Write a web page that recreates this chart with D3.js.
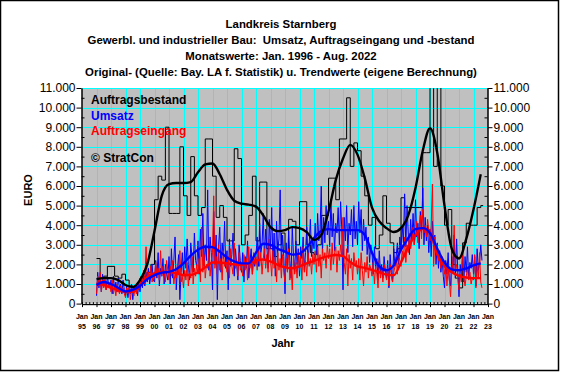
<!DOCTYPE html>
<html>
<head>
<meta charset="utf-8">
<script src="https://cdn.jsdelivr.net/npm/d3@7"></script>
<style>
	body { margin: 0; background: #fff; }
	svg { display: block; font-family: "Liberation Sans", Arial, sans-serif; }
</style>
</head>
<body>
<svg id="chart" width="562" height="376"></svg>
<script>
// Chart texts
const titleLines = [
	'Landkreis Starnberg',
	'Gewerbl. und industrieller Bau:  Umsatz, Auftragseingang und -bestand',
	'Monatswerte: Jan. 1996 - Aug. 2022',
	'Original- (Quelle: Bay. LA f. Statistik) u. Trendwerte (eigene Berechnung)',
];
const legendLabels = [ 'Auftragsbestand', 'Umsatz', 'Auftragseingang' ];
const legendColors = [ '#000000', '#0000ff', '#ff0000' ];
const copyrightLabel = '© StratCon';
const yTitle = 'EURO';
const xTitle = 'Jahr';

// Axis ticks
const yTicks = [ 0, 1000, 2000, 3000, 4000, 5000, 6000, 7000, 8000, 9000, 10000, 11000 ];
const xYears = d3.range( 1995, 2024 );

// Auftragsbestand, quarterly values (Q1 1996 .. Q3 2022)
const bestandQuarterly = [
	2300, 1300, 1400, 1900,
	1900, 1400, 1300, 1500,
	1200, 900, 800, 900,
	1300, 1400, 1600, 2000,
	5300, 6500, 6300, 9000,
	4600, 4600, 4600, 8000,
	5500, 4500, 7500, 5500,
	4500, 4900, 8400, 8400,
	6500, 4400, 5000, 4400,
	3200, 3200, 7900, 7400,
	3000, 3500, 4500, 6500,
	3200, 6200, 6200, 2800,
	2800, 2400, 3000, 3600,
	2600, 4300, 4200, 3000,
	5200, 5200, 3000, 2600,
	2500, 3000, 4500, 4500,
	6400, 6400, 5300, 8400,
	8400, 10500, 7000, 8200,
	7800, 6500, 5500, 4000,
	4400, 2800, 3500, 5500,
	4100, 3100, 2600, 2800,
	5400, 4900, 4900, 4900,
	4900, 4900, 7700, 7700,
	11500, 7000, 11500, 6000,
	4000, 4800, 2000, 1300,
	800, 3100, 4100, 4000,
	4000, 4900, 5000,
];

// Umsatz, monthly values (Jan 1996 .. Aug 2022)
const umsatzMonthly = [
	400, 1600, 800, 1300, 600, 1500, 900, 1200, 700, 1400, 1000, 800,
	1200, 500, 1400, 700, 1100, 600, 1300, 800, 1000, 500, 1200, 700,
	400, 900, 300, 800, 500, 1000, 200, 700, 600, 900, 400, 1000,
	600, 1200, 800, 1500, 900, 1600, 1100, 1800, 1000, 1400, 2000, 1200,
	1100, 2200, 1300, 2600, 900, 1800, 1400, 2300, 1000, 2000, 1500, 1200,
	2400, 1000, 2800, 1300, 2200, 3400, 700, 1800, 2500, 200, 1600, 2600,
	1400, 2900, 1800, 3300, 2000, 1200, 3100, 2400, 1600, 3600, 2200, 1900,
	3200, 1500, 3800, 2400, 4600, 1900, 3000, 2200, 5800, 1700, 3400, 2600,
	700, 4700, 2000, 3500, 200, 2900, 3900, 1600, 3100, 2300, 4200, 1800,
	2700, 700, 3300, 1900, 2500, 3600, 1400, 2800, 2000, 1200, 3000, 2200,
	1600, 2600, 1100, 2400, 1800, 3200, 1300, 2100, 2800, 1500, 2300, 1900,
	2500, 3400, 1900, 4100, 2600, 3000, 4600, 2200, 3800, 2900, 1800, 4300,
	2800, 4900, 2100, 3600, 1400, 4200, 2700, 3300, 5800, 1900, 3500, 2400,
	500, 3100, 1800, 3700, 2200, 1300, 3900, 2500, 1600, 3200, 2000, 2800,
	1400, 2900, 2300, 3400, 1700, 2600, 3900, 2100, 3000, 4300, 2400, 3300,
	2800, 4100, 2500, 4600, 3200, 3700, 6000, 2600, 4400, 3100, 5000, 3500,
	4200, 2900, 5300, 3400, 4600, 2700, 4100, 3600, 4900, 3000, 5200, 3800,
	700, 4400, 3200, 5000, 2600, 4100, 3500, 4800, 2900, 5000, 3300, 4200,
	3000, 5200, 3600, 4800, 2700, 4300, 3200, 3900, 2500, 3400, 2100, 3000,
	2600, 1500, 2900, 1800, 2300, 1200, 2700, 1600, 2000, 1300, 2400, 1700,
	1300, 2200, 800, 2500, 1600, 1100, 2800, 1900, 2400, 3100, 2000, 3400,
	2700, 4000, 3100, 5600, 2900, 5000, 3600, 2500, 4300, 3200, 4600, 3000,
	5300, 3400, 4100, 2800, 4700, 3600, 5900, 3000, 4400, 3200, 4000, 2600,
	3800, 2400, 4200, 2900, 3500, 2000, 3100, 1800, 2700, 1600, 2300, 1400,
	800, 2200, 1500, 2600, 1200, 900, 2400, 1600, 3500, 1300, 3300, 1700,
	350, 2000, 1400, 2700, 1100, 2400, 1600, 2900, 1300, 2100, 1800, 2500,
	1500, 2400, 900, 2800, 1700, 2100, 3000, 2200,
];

// Auftragseingang, monthly values (Jan 1996 .. Aug 2022)
const eingangMonthly = [
	500, 1400, 900, 1600, 600, 1200, 800, 1300, 700, 1100, 900, 1000,
	600, 1200, 500, 900, 400, 1000, 700, 500, 900, 600, 800, 500,
	300, 800, 500, 900, 200, 700, 600, 400, 900, 500, 1000, 700,
	900, 1400, 1100, 1700, 1000, 2900, 1200, 1600, 1300, 1900, 1100, 1500,
	1300, 2100, 1500, 1800, 1200, 2700, 1400, 1900, 1600, 1100, 2200, 1700,
	1200, 1900, 1400, 2200, 1000, 1600, 1300, 2000, 1500, 2700, 1100, 1400,
	800, 1700, 1200, 2100, 900, 1600, 1300, 2400, 1000, 1800, 1400, 2000,
	1500, 2300, 1100, 3900, 1600, 2500, 1300, 2000, 1800, 2800, 1400, 2200,
	2600, 5500, 1800, 2400, 1500, 3000, 1700, 2300, 1200, 2700, 1900, 2100,
	1600, 2400, 1300, 2800, 1900, 1500, 3100, 1800, 2200, 1400, 2600, 1700,
	1900, 1400, 2500, 1700, 2300, 1200, 2900, 1800, 2200, 1500, 2600, 2000,
	2400, 1700, 2900, 1900, 2600, 1500, 2300, 2800, 1800, 2500, 1600, 3300,
	2200, 1400, 2700, 1800, 2400, 1100, 2600, 1700, 2300, 1300, 2500, 1600,
	1100, 2300, 1600, 2800, 1200, 1900, 700, 2400, 1500, 2100, 1300, 2600,
	1700, 2400, 1200, 2900, 1600, 2200, 1400, 2600, 1900, 2300, 1500, 2500,
	2000, 2700, 1600, 2900, 1900, 2500, 1300, 2800, 2200, 2600, 1800, 3000,
	2300, 2800, 1700, 3100, 2000, 2600, 2900, 1600, 2700, 2200, 3000, 2400,
	4400, 2100, 1500, 2800, 900, 2500, 1800, 2300, 1200, 2600, 1900, 2200,
	1500, 2300, 1200, 2600, 1700, 900, 2100, 1600, 2400, 1300, 2000, 1800,
	1400, 2100, 1000, 1900, 1500, 800, 2200, 1300, 1800, 1100, 2000, 1600,
	1200, 1800, 900, 2000, 1400, 1100, 1600, 1900, 2400, 1500, 2600, 2200,
	1900, 2700, 2300, 3400, 2100, 3000, 2600, 3600, 2800, 3200, 3900, 3000,
	3500, 4200, 3100, 3800, 4500, 3300, 4800, 3600, 4000, 3400, 4300, 3700,
	3200, 4000, 6100, 1900, 3400, 2600, 3000, 2200, 2500, 1800, 2400, 2000,
	1500, 2100, 900, 1800, 1200, 350, 1600, 2200, 4000, 1700, 2000, 1300,
	700, 1500, 1100, 2600, 1300, 900, 1400, 1800, 1200, 1600, 1000, 1300,
	1200, 2500, 800, 1900, 1300, 2600, 1100, 800,
];

// Trend values, half-yearly (1996.0 .. 2022.5)
const trendYears = d3.range( 1996, 2022.51, 0.5 );
const trendBestand = [
	1250, 1300, 1300, 1200, 950, 850, 1200, 2000, 3700, 5500,
	6100, 6150, 6150, 6200, 6700, 7100, 7150, 6600, 5800, 5250,
	5100, 5050, 4950, 4500, 3900, 3700, 3750, 3900, 3850, 3650,
	3250, 3500, 4700, 6300, 7400, 8100, 7600, 6400, 4900, 4200,
	3850, 3650, 3850, 4500, 5900, 7800, 8950, 7700, 5000, 2800,
	2300, 3300, 4800, 6600,
];
const trendUmsatz = [
	950, 1100, 1000, 800, 620, 700, 900, 1250, 1450, 1580,
	1620, 1750, 2050, 2450, 2750, 2900, 2880, 2650, 2350, 2150,
	2050, 2050, 2600, 3050, 3000, 2800, 2650, 2500, 2550, 2850,
	3350, 3700, 3800, 3750, 3750, 3750, 3750, 3500, 2600, 1900,
	1700, 1950, 2750, 3350, 3800, 3850, 3600, 2800, 2100, 1750,
	1700, 1800, 1950, 2050,
];
const trendEingang = [
	1030, 950, 800, 680, 600, 600, 900, 1350, 1560, 1620,
	1620, 1550, 1460, 1460, 1600, 1850, 2100, 2100, 2050, 2000,
	1970, 2050, 2200, 2250, 2150, 1980, 1850, 1800, 1900, 2050,
	2180, 2320, 2420, 2480, 2420, 2120, 1900, 1820, 1720, 1600,
	1480, 1450, 2100, 2900, 3500, 3820, 3650, 2500, 1900, 1600,
	1420, 1330, 1300, 1300,
];

const svg = d3.select( '#chart' );
const de = d3.formatLocale( { decimal: ',', thousands: '.', grouping: [ 3 ], currency: [ '', ' €' ] } );
const fmt = de.format( ',' );

const plot = { left: 82, right: 488, top: 88, bottom: 303.6 };

const x = d3.scaleLinear().domain( [ 1995, 2023 ] ).range( [ plot.left, plot.right ] );
const y = d3.scaleLinear().domain( [ 0, 11000 ] ).range( [ plot.bottom, plot.top ] );

// Outer frame
svg.append( 'rect' )
	.attr( 'x', 0.5 ).attr( 'y', 0.5 )
	.attr( 'width', 558 ).attr( 'height', 370 )
	.attr( 'fill', '#fff' )
	.attr( 'stroke', '#000' )
	.attr( 'stroke-width', 1.5 );

// Titles
svg.append( 'g' )
	.selectAll( 'text' )
	.data( titleLines )
	.join( 'text' )
	.attr( 'x', 281 )
	.attr( 'y', ( d, i ) => 28 + i * 16 )
	.attr( 'text-anchor', 'middle' )
	.attr( 'font-size', 11.4 )
	.attr( 'font-weight', 'bold' )
	.style( 'white-space', 'pre' )
	.text( ( d ) => d );

// Plot background
svg.append( 'rect' )
	.attr( 'x', plot.left ).attr( 'y', plot.top )
	.attr( 'width', plot.right - plot.left )
	.attr( 'height', plot.bottom - plot.top )
	.attr( 'fill', '#c0c0c0' );

// Grid lines
const grid = svg.append( 'g' ).attr( 'stroke', '#00ffff' ).attr( 'stroke-width', 1 );
grid.selectAll( 'line.h' )
	.data( yTicks.slice( 1 ) )
	.join( 'line' )
	.attr( 'x1', plot.left ).attr( 'x2', plot.right )
	.attr( 'y1', ( d ) => Math.round( y( d ) ) + 0.5 )
	.attr( 'y2', ( d ) => Math.round( y( d ) ) + 0.5 );
grid.selectAll( 'line.v' )
	.data( xYears.slice( 1, -1 ) )
	.join( 'line' )
	.attr( 'y1', plot.top ).attr( 'y2', plot.bottom )
	.attr( 'x1', ( d ) => Math.round( x( d ) ) + 0.5 )
	.attr( 'x2', ( d ) => Math.round( x( d ) ) + 0.5 );

// Clip for series
svg.append( 'clipPath' ).attr( 'id', 'plotClip' )
	.append( 'rect' )
	.attr( 'x', plot.left ).attr( 'y', plot.top )
	.attr( 'width', plot.right - plot.left )
	.attr( 'height', plot.bottom - plot.top );

const series = svg.append( 'g' ).attr( 'clip-path', 'url(#plotClip)' );

const monthYear = ( i ) => 1996 + i / 12;

// Raw Auftragsbestand as steps
const bestandPoints = bestandQuarterly.map( ( v, i ) => [ 1996 + i / 4, v ] );
bestandPoints.push( [ 1996 + 320 / 12, bestandQuarterly[ bestandQuarterly.length - 1 ] ] );

const rawLine = d3.line()
	.x( ( d ) => x( d[ 0 ] ) )
	.y( ( d ) => y( d[ 1 ] ) );

series.append( 'path' )
	.datum( bestandPoints )
	.attr( 'fill', 'none' )
	.attr( 'stroke', '#000' )
	.attr( 'stroke-width', 1 )
	.attr( 'd', rawLine.curve( d3.curveStepAfter ) );

rawLine.curve( d3.curveLinear );

series.append( 'path' )
	.datum( umsatzMonthly.map( ( v, i ) => [ monthYear( i ), v ] ) )
	.attr( 'fill', 'none' )
	.attr( 'stroke', '#0000ff' )
	.attr( 'stroke-width', 1 )
	.attr( 'd', rawLine );

series.append( 'path' )
	.datum( eingangMonthly.map( ( v, i ) => [ monthYear( i ), v ] ) )
	.attr( 'fill', 'none' )
	.attr( 'stroke', '#ff0000' )
	.attr( 'stroke-width', 1 )
	.attr( 'd', rawLine );

// Trend lines
const trendLine = d3.line()
	.x( ( d ) => x( d[ 0 ] ) )
	.y( ( d ) => y( d[ 1 ] ) )
	.curve( d3.curveMonotoneX );

[ [ trendEingang, '#ff0000' ], [ trendUmsatz, '#0000ff' ], [ trendBestand, '#000000' ] ].forEach( ( [ vals, color ] ) => {
	series.append( 'path' )
		.datum( vals.map( ( v, i ) => [ trendYears[ i ], v ] ) )
		.attr( 'fill', 'none' )
		.attr( 'stroke', color )
		.attr( 'stroke-width', 2.4 )
		.attr( 'stroke-linejoin', 'round' )
		.attr( 'd', trendLine );
} );

// Y axes
const minorY = d3.range( 500, 11000, 1000 );

const leftAxis = svg.append( 'g' )
	.attr( 'transform', `translate(${ plot.left - 0.5 },0)` )
	.call( d3.axisLeft( y ).tickValues( yTicks ).tickFormat( fmt ).tickSizeInner( 5 ).tickSizeOuter( 0 ) );
svg.append( 'g' )
	.attr( 'transform', `translate(${ plot.left - 0.5 },0)` )
	.call( d3.axisLeft( y ).tickValues( minorY ).tickFormat( '' ).tickSizeInner( -3 ).tickSizeOuter( 0 ) );

const rightAxis = svg.append( 'g' )
	.attr( 'transform', `translate(${ plot.right - 0.5 },0)` )
	.call( d3.axisRight( y ).tickValues( yTicks ).tickFormat( fmt ).tickSizeInner( 5 ).tickSizeOuter( 0 ) );
svg.append( 'g' )
	.attr( 'transform', `translate(${ plot.right - 0.5 },0)` )
	.call( d3.axisRight( y ).tickValues( minorY ).tickFormat( '' ).tickSizeInner( -3 ).tickSizeOuter( 0 ) );

[ leftAxis, rightAxis ].forEach( ( a ) => {
	a.selectAll( 'text' )
		.attr( 'font-size', 12 )
		.attr( 'font-family', '"Liberation Sans", Arial, sans-serif' )
		.attr( 'fill', '#000' );
} );
leftAxis.selectAll( 'text' ).attr( 'x', -6 );
rightAxis.selectAll( 'text' ).attr( 'x', 6 );

// X axis
const minorX = d3.range( 1995, 2023, 0.25 );
svg.append( 'g' )
	.attr( 'transform', `translate(0,${ plot.bottom + 0.5 })` )
	.call( d3.axisBottom( x ).tickValues( minorX ).tickFormat( '' ).tickSizeInner( -2 ).tickSizeOuter( 0 ) );
svg.append( 'g' )
	.attr( 'transform', `translate(0,${ plot.bottom + 0.5 })` )
	.call( d3.axisBottom( x ).tickValues( xYears ).tickFormat( '' ).tickSizeInner( 3 ).tickSizeOuter( 0 ) );

const xLabels = svg.append( 'g' )
	.attr( 'font-size', 7 )
	.attr( 'font-weight', 'bold' )
	.attr( 'text-anchor', 'middle' );
xLabels.selectAll( 'text.m' )
	.data( xYears )
	.join( 'text' )
	.attr( 'x', ( d ) => x( d ) )
	.attr( 'y', 319 )
	.text( 'Jan' );
xLabels.selectAll( 'text.yr' )
	.data( xYears )
	.join( 'text' )
	.attr( 'x', ( d ) => x( d ) )
	.attr( 'y', 329 )
	.text( ( d ) => String( d % 100 ).padStart( 2, '0' ) );

// Axis titles
svg.append( 'text' )
	.attr( 'x', 283 )
	.attr( 'y', 347 )
	.attr( 'text-anchor', 'middle' )
	.attr( 'font-size', 11 )
	.attr( 'font-weight', 'bold' )
	.text( xTitle );

svg.append( 'text' )
	.attr( 'transform', 'translate(32,190) rotate(-90)' )
	.attr( 'text-anchor', 'middle' )
	.attr( 'font-size', 11 )
	.attr( 'font-weight', 'bold' )
	.text( yTitle );

// Legend
const legend = svg.append( 'g' )
	.attr( 'font-size', 12 )
	.attr( 'font-weight', 'bold' );
legend.selectAll( 'text' )
	.data( legendLabels )
	.join( 'text' )
	.attr( 'x', 91 )
	.attr( 'y', ( d, i ) => 104 + i * 15.5 )
	.attr( 'fill', ( d, i ) => legendColors[ i ] )
	.text( ( d ) => d );
legend.append( 'text' )
	.attr( 'x', 91 )
	.attr( 'y', 162 )
	.attr( 'fill', '#000' )
	.text( copyrightLabel );
</script>
</body>
</html>
